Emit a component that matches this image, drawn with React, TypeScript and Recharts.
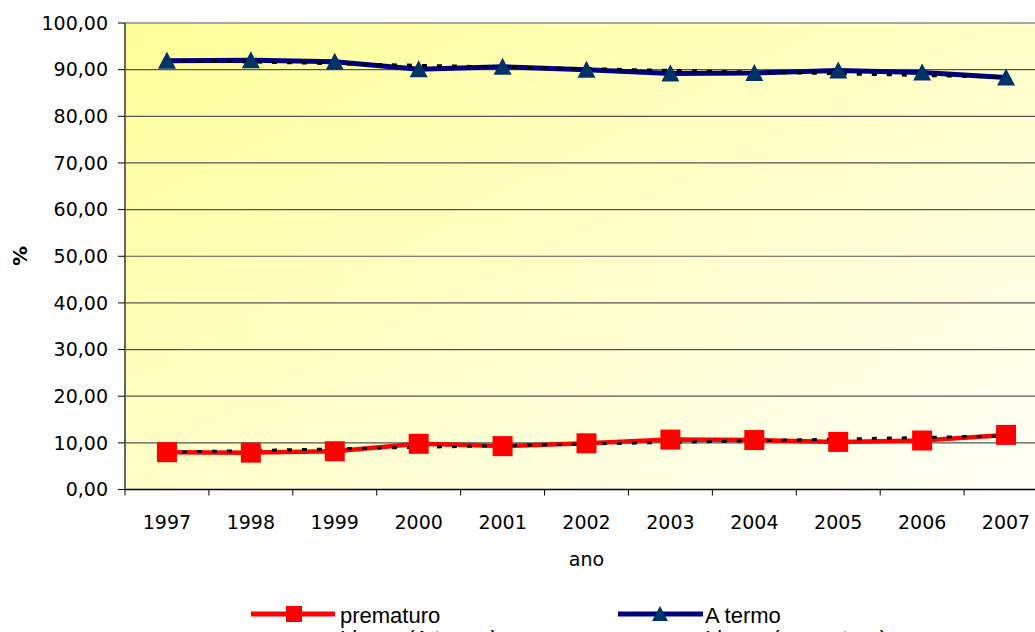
import React from 'react';
import { LineChart, Line, XAxis, YAxis, CartesianGrid, Legend } from 'recharts';

const years = ['1997', '1998', '1999', '2000', '2001', '2002', '2003', '2004', '2005', '2006', '2007'];
const prematuro = [8.0, 7.9, 8.2, 9.8, 9.3, 9.9, 10.7, 10.6, 10.2, 10.5, 11.7];
const aTermo = [91.9, 92.0, 91.7, 90.1, 90.6, 90.0, 89.2, 89.3, 89.8, 89.4, 88.3];
// linear trend lines: only the two ends
const linearATermo = [92.0, 88.4];
const linearPrematuro = [8.0, 11.5];
const yTicks = [0, 10, 20, 30, 40, 50, 60, 70, 80, 90, 100];

const data = years.map((ano, i) => {
  const last = i === years.length - 1;
  return {
    ano,
    prematuro: prematuro[i],
    aTermo: aTermo[i],
    linATermo: i === 0 ? linearATermo[0] : last ? linearATermo[1] : null,
    linPrematuro: i === 0 ? linearPrematuro[0] : last ? linearPrematuro[1] : null,
  };
});

const W = 1050;
const H = 670;
const LEFT = 125;
const RIGHT = 2;
const BAND = (W - LEFT - RIGHT) / years.length;
const FONT = '"DejaVu Sans", sans-serif';

const XTick = (props: any) => {
  const { x, y, payload } = props;
  const axisY = y - 26;
  const half = BAND / 2;
  const isLast = payload.value === years[years.length - 1];
  return (
    <g>
      <line x1={x - half} x2={x - half} y1={axisY} y2={axisY + 6} stroke="#000" />
      {isLast && <line x1={x + half} x2={x + half} y1={axisY} y2={axisY + 6} stroke="#000" />}
      <text x={x} y={y} dy="0.71em" textAnchor="middle" fontSize={19} fontFamily={FONT} fill="#000">
        {payload.value}
      </text>
    </g>
  );
};

const SquareDot = (p: any) => (
  <rect key={`sq-${p.index}`} x={p.cx - 10} y={p.cy - 10} width={20} height={20} fill="#FF0000" />
);

const TriangleDot = (p: any) => (
  <polygon
    key={`tr-${p.index}`}
    points={`${p.cx},${p.cy - 9} ${p.cx - 9},${p.cy + 8} ${p.cx + 9},${p.cy + 8}`}
    fill="#003366"
  />
);

const LegendBox = () => (
  <div style={{ width: W, height: 75, position: 'relative' }}>
    <svg width={W} height={75} style={{ position: 'absolute', left: 0, top: 0 }}>
      <g fontFamily='"Liberation Sans", Arial, sans-serif' fontSize={22} fill="#000">
        <line x1={251} x2={335} y1={19} y2={19} stroke="#FF0000" strokeWidth={5} />
        <rect x={286} y={11} width={16} height={16} fill="#FF0000" />
        <text x={340} y={28}>prematuro</text>
        <line x1={618} x2={703} y1={19} y2={19} stroke="#000080" strokeWidth={5} />
        <polygon points="660,11 652,26 668,26" fill="#003366" />
        <text x={705} y={28}>A termo</text>
        <line x1={251} x2={335} y1={42} y2={42} stroke="#000" strokeWidth={3} strokeDasharray="5 10" />
        <text x={340} y={51}>Linear (A termo)</text>
        <line x1={618} x2={703} y1={42} y2={42} stroke="#000" strokeWidth={3} strokeDasharray="5 10" />
        <text x={705} y={51}>Linear (prematuro)</text>
      </g>
    </svg>
  </div>
);

export default function App() {
  return (
    <div style={{ position: 'absolute', left: 0, top: 0, width: 1035, height: 632, overflow: 'hidden', background: '#fff' }}>
      <LineChart width={W} height={H} data={data} margin={{ top: 23, right: RIGHT, left: 0, bottom: 0 }}>
        <defs>
          <linearGradient id="plotBg" x1="0" y1="0" x2="1" y2="1">
            <stop offset="0%" stopColor="#FFFF99" />
            <stop offset="100%" stopColor="#FFFFF8" />
          </linearGradient>
        </defs>
        <CartesianGrid vertical={false} fill="url(#plotBg)" stroke="#555" strokeWidth={1.2} />
        <XAxis
          dataKey="ano"
          height={105.5}
          padding={{ left: BAND / 2, right: BAND / 2 }}
          tickSize={6}
          tickMargin={20}
          tickLine={false}
          interval={0}
          axisLine={{ stroke: '#000', strokeWidth: 1.5 }}
          tick={<XTick />}
          label={{ value: 'ano', position: 'insideBottom', offset: 29, fontSize: 19, fontFamily: FONT, fill: '#000' }}
        />
        <YAxis
          width={LEFT}
          domain={[0, 100]}
          ticks={yTicks}
          tickSize={7}
          tickMargin={10}
          axisLine={{ stroke: '#666', strokeWidth: 2 }}
          tickLine={{ stroke: '#000' }}
          tick={{ fontSize: 19, fontFamily: FONT, fill: '#000' }}
          tickFormatter={(v: number) => v.toFixed(2).replace('.', ',')}
          label={() => (
            <text
              x={20}
              y={256}
              transform="rotate(-90 20 256)"
              textAnchor="middle"
              dominantBaseline="central"
              fontSize={20}
              fontWeight="bold"
              fontFamily={FONT}
              fill="#000"
            >
              %
            </text>
          )}
        />
        <Legend verticalAlign="bottom" height={75} content={() => <LegendBox />} wrapperStyle={{ left: 0 }} />
        <Line dataKey="prematuro" stroke="#FF0000" strokeWidth={4.5} dot={SquareDot} isAnimationActive={false} />
        <Line dataKey="aTermo" stroke="#000080" strokeWidth={5} dot={TriangleDot} isAnimationActive={false} />
        <Line
          dataKey="linATermo"
          stroke="#000"
          strokeWidth={3}
          strokeDasharray="5 10"
          dot={false}
          connectNulls
          isAnimationActive={false}
        />
        <Line
          dataKey="linPrematuro"
          stroke="#000"
          strokeWidth={3}
          strokeDasharray="5 10"
          dot={false}
          connectNulls
          isAnimationActive={false}
        />
      </LineChart>
    </div>
  );
}
